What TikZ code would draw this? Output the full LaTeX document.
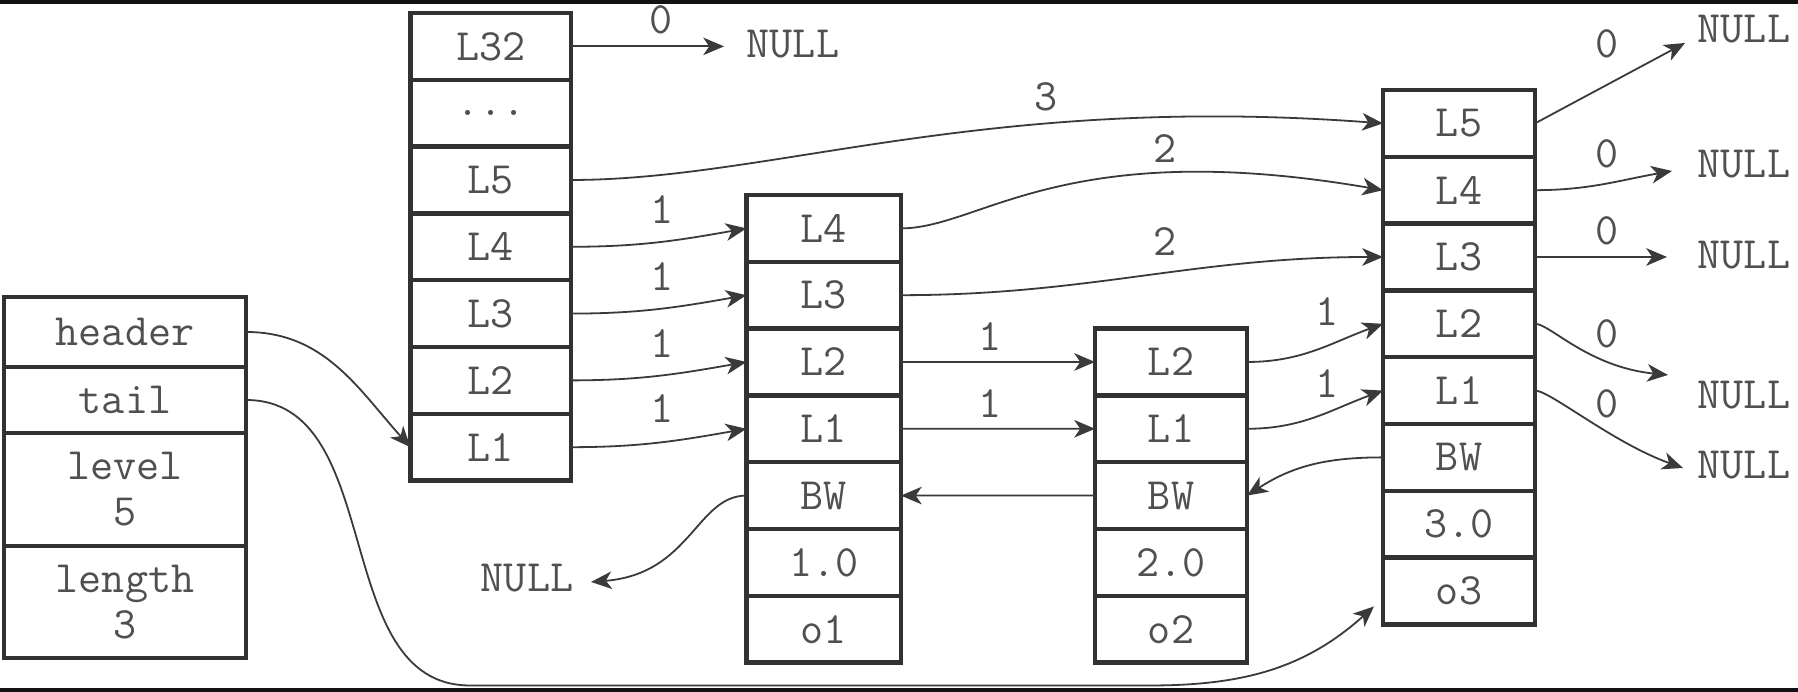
\documentclass[tikz,border=0pt]{standalone}
\usepackage{fontspec}
\usetikzlibrary{arrows.meta,positioning,calc}
\definecolor{boxgray}{RGB}{50,50,50}
\definecolor{txtgray}{RGB}{80,80,80}
\definecolor{arrgray}{RGB}{58,58,58}
\definecolor{barblack}{RGB}{18,18,20}
\newcommand{\celltxt}{\ttfamily\fontsize{11.2}{11.5}\selectfont}
\tikzset{
  cell/.style ={rectangle, draw=boxgray, line width=1.1pt, inner sep=0pt,
                outer sep=0pt, minimum height=16.7pt, font=\celltxt,
                text=txtgray, align=center},
  hcell/.style={cell, minimum width=60.5pt},
  bcell/.style={cell, minimum width=40.1pt},
  ccell/.style={cell, minimum width=38.6pt},
  dcell/.style={cell, minimum width=38pt},
  ecell/.style={cell, minimum width=38pt},
  wlbl/.style ={inner sep=0pt, font=\celltxt, text=txtgray},
  nulltxt/.style={inner sep=0pt, font=\celltxt, text=txtgray},
  ptr/.style  ={-{Stealth[length=5.2pt,width=4.4pt,inset=1.5pt]},
                line width=0.45pt, draw=arrgray},
}

\begin{document}
\begin{tikzpicture}[x=0.25pt, y=0.25pt]
  \useasboundingbox (0,0) rectangle (1798,692);
  \fill[barblack] (0,688) rectangle (1798,692);
  \fill[barblack] (0,0) rectangle (1798,4);

  % ---- zskiplist ----------------------------------------------------------
  \node[hcell, anchor=north west, minimum height=17.5pt] (A-head) at (4,395) {header};
  \node[hcell, below=0pt of A-head, minimum height=16.5pt] (A-tail) {tail};
  \node[hcell, below=0pt of A-tail, minimum height=28.25pt] (A-lvl) {level\\5};
  \node[hcell, below=0pt of A-lvl, minimum height=28pt] (A-len) {length\\3};

  % ---- header node --------------------------------------------------------
  \node[bcell, anchor=north west] (B-L32) at (410.5,679) {L32};
  \node[bcell, below=0pt of B-L32] (B-dots) {...};
  \node[bcell, below=0pt of B-dots] (B-L5) {L5};
  \node[bcell, below=0pt of B-L5] (B-L4) {L4};
  \node[bcell, below=0pt of B-L4] (B-L3) {L3};
  \node[bcell, below=0pt of B-L3] (B-L2) {L2};
  \node[bcell, below=0pt of B-L2] (B-L1) {L1};

  % ---- node o1 ------------------------------------------------------------
  \node[ccell, anchor=north west] (C-L4) at (746.5,497) {L4};
  \node[ccell, below=0pt of C-L4] (C-L3) {L3};
  \node[ccell, below=0pt of C-L3] (C-L2) {L2};
  \node[ccell, below=0pt of C-L2] (C-L1) {L1};
  \node[ccell, below=0pt of C-L1] (C-BW) {BW};
  \node[ccell, below=0pt of C-BW] (C-sc) {1.0};
  \node[ccell, below=0pt of C-sc] (C-obj) {o1};

  % ---- node o2 ------------------------------------------------------------
  \node[dcell, anchor=north west] (D-L2) at (1095,363.4) {L2};
  \node[dcell, below=0pt of D-L2] (D-L1) {L1};
  \node[dcell, below=0pt of D-L1] (D-BW) {BW};
  \node[dcell, below=0pt of D-BW] (D-sc) {2.0};
  \node[dcell, below=0pt of D-sc] (D-obj) {o2};

  % ---- node o3 ------------------------------------------------------------
  \node[ecell, anchor=north west] (E-L5) at (1383,602) {L5};
  \node[ecell, below=0pt of E-L5] (E-L4) {L4};
  \node[ecell, below=0pt of E-L4] (E-L3) {L3};
  \node[ecell, below=0pt of E-L3] (E-L2) {L2};
  \node[ecell, below=0pt of E-L2] (E-L1) {L1};
  \node[ecell, below=0pt of E-L1] (E-BW) {BW};
  \node[ecell, below=0pt of E-BW] (E-sc) {3.0};
  \node[ecell, below=0pt of E-sc] (E-obj) {o3};

  % ---- NULL ends ----------------------------------------------------------
  \node[nulltxt, anchor=west] (N32) at (746,648) {NULL};
  \node[nulltxt, anchor=east] (Nbw) at (574,114) {NULL};
  \node[nulltxt, anchor=west] (N5) at (1697,663) {NULL};
  \node[nulltxt, anchor=west] (N4) at (1697,528) {NULL};
  \node[nulltxt, anchor=west] (N3) at (1697,437) {NULL};
  \node[nulltxt, anchor=west] (N2) at (1697,297) {NULL};
  \node[nulltxt, anchor=west] (N1) at (1697,227) {NULL};

  % ---- spans --------------------------------------------------------------
  \node[wlbl] (w-B32) at (661,672) {0};
  \node[wlbl] (w-B5) at (1046,595) {3};
  \node[wlbl] (w-C4) at (1165,543.5) {2};
  \node[wlbl] (w-C3) at (1165,450.3) {2};
  \node[wlbl] (w-B4) at (661.7,482) {1};
  \node[wlbl] (w-B3) at (661.7,415.3) {1};
  \node[wlbl] (w-B2) at (661.7,348.7) {1};
  \node[wlbl] (w-B1) at (661.7,283.7) {1};
  \node[wlbl] (w-C2) at (990,355.3) {1};
  \node[wlbl] (w-C1) at (990,288.7) {1};
  \node[wlbl] (w-D2) at (1326.7,380.3) {1};
  \node[wlbl] (w-D1) at (1326.7,308.7) {1};
  \node[wlbl] (w-E5) at (1607,648) {0};
  \node[wlbl] (w-E4) at (1607,538) {0};
  \node[wlbl] (w-E3) at (1607,461.2) {0};
  \node[wlbl] (w-E2) at (1607,358) {0};
  \node[wlbl] (w-E1) at (1607,288) {0};

  % ---- forward pointers ---------------------------------------------------
  \draw[ptr, shorten >=5.5pt] (B-L32.east) -- (B-L32.east -| N32.west);
  \draw[ptr] (B-L5.east) .. controls +(200,0) and +(-400,30) .. (E-L5.west);
  \draw[ptr] (B-L4.east) to[out=0,in=190] (C-L4.west);
  \draw[ptr] (B-L3.east) to[out=0,in=190] (C-L3.west);
  \draw[ptr] (B-L2.east) to[out=0,in=190] (C-L2.west);
  \draw[ptr] (B-L1.east) to[out=0,in=190] (C-L1.west);
  \draw[ptr] (C-L4.east) .. controls +(80,0) and +(-320,55) .. (E-L4.west);
  \draw[ptr] (C-L3.east) to[out=0,in=180] (E-L3.west);
  \draw[ptr] (C-L2.east) -- (D-L2.west);
  \draw[ptr] (C-L1.east) -- (D-L1.west);
  \draw[ptr] (D-L2.east) to[out=0,in=200] (E-L2.west);
  \draw[ptr] (D-L1.east) to[out=0,in=200] (E-L1.west);
  \draw[ptr] (E-L5.east) -- ($(N5.west)+(-12,-14)$);
  \draw[ptr] (E-L4.east) to[out=0,in=190] ($(N4.west)+(-25,-7)$);
  \draw[ptr, shorten >=7.5pt] (E-L3.east) -- (E-L3.east -| N3.west);
  \draw[ptr] (E-L2.east) .. controls +(15,0) and +(-80,8) .. ($(N2.west)+(-29,20)$);
  \draw[ptr] (E-L1.east) .. controls +(15,0) and +(-70,25) .. ($(N1.west)+(-14,-3)$);

  % ---- backward pointers --------------------------------------------------
  \draw[ptr] (E-BW.west) to[out=180,in=33] (D-BW.east);
  \draw[ptr] (D-BW.west) -- (C-BW.east);
  \draw[ptr] (C-BW.west) .. controls +(-50,0) and +(100,8) .. ($(Nbw.east)+(17,-4)$);

  % ---- header / tail ------------------------------------------------------
  \coordinate (tail-dip) at (470,6.5);
  \coordinate (tail-rise) at (1150,6.5);
  \coordinate (tail-end) at ($(E-obj.south west)+(-9,18)$);
  \draw[ptr] (A-head.east) to[out=0,in=132] (B-L1.west);
  \draw[ptr] (A-tail.east) to[out=0,in=180] (tail-dip) -- (tail-rise)
             to[out=0,in=222] (tail-end);
\end{tikzpicture}
\end{document}
